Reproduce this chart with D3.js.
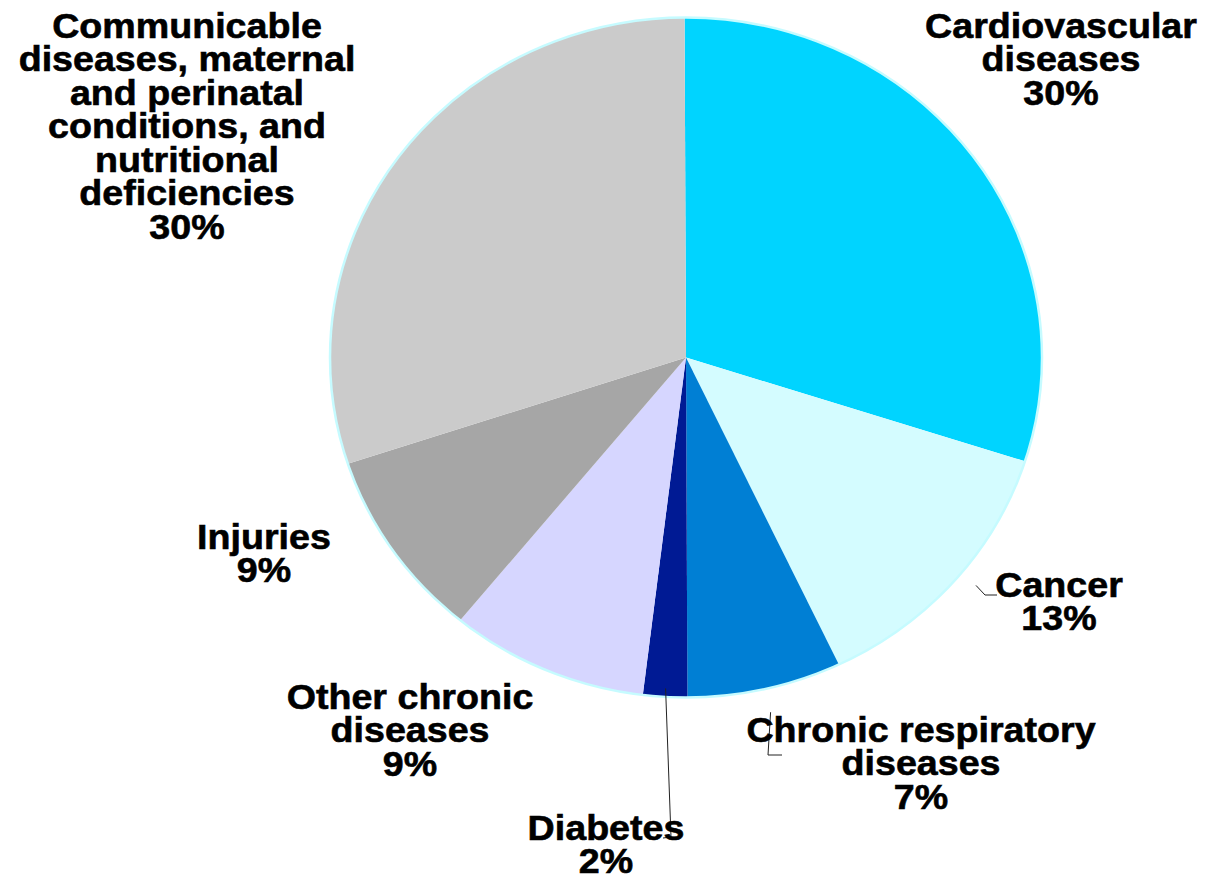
<!DOCTYPE html>
<html>
<head>
<meta charset="utf-8">
<script src="https://cdn.jsdelivr.net/npm/d3@7"></script>
<style>
  html, body { margin: 0; padding: 0; background: #fff; }
  text { font-family: "Liberation Sans", Arial, sans-serif; font-weight: bold; fill: #000; }
</style>
</head>
<body>
<div id="chart"></div>
<script>
'use strict';

// data
const categories = [
  'Cardiovascular diseases',
  'Cancer',
  'Chronic respiratory diseases',
  'Diabetes',
  'Other chronic diseases',
  'Injuries',
  'Communicable diseases, maternal and perinatal conditions, and nutritional deficiencies',
];
const values = [30, 13, 7, 2, 9, 9, 30];
const labelLines = [
  ['Cardiovascular', 'diseases'],
  ['Cancer'],
  ['Chronic respiratory', 'diseases'],
  ['Diabetes'],
  ['Other chronic', 'diseases'],
  ['Injuries'],
  ['Communicable', 'diseases, maternal', 'and perinatal', 'conditions, and', 'nutritional', 'deficiencies'],
];

const colors = ['#00d4ff', '#d4fcff', '#007fd4', '#001a94', '#d6d6ff', '#a6a6a6', '#cbcbcb'];

const width = 1207;
const height = 879;
const cx = 686;
const cy = 357.5;
const rx = 356;
const ry = 340;
const lineHeight = 33.5;

// where each label block sits (first baseline, centre x)
const labelPos = [
  { x: 1061, y: 38 },
  { x: 1059, y: 597 },
  { x: 921, y: 742 },
  { x: 606, y: 840 },
  { x: 410, y: 709 },
  { x: 264, y: 549 },
  { x: 187, y: 38 },
];

// leader lines: radius factor for the start, elbow/end offsets from the label
const leaders = {
  1: { k: 1.055, elbow: [-74, -2], end: [-62, -2] },
  2: { k: 1.07, elbow: [-153, 13], end: [-139, 13] },
  3: { k: 0.975, elbow: [65, -3], end: [57, -2] },
};

const svg = d3.select('#chart')
  .append('svg')
  .attr('width', width)
  .attr('height', height);

const color = d3.scaleOrdinal()
  .domain(categories)
  .range(colors);

const pie = d3.pie()
  .sort(null)
  .value((d) => d.value)
  .startAngle(-0.004)
  .endAngle(2 * Math.PI - 0.004);

const data = categories.map((c, i) => ({ name: c, value: values[i], lines: labelLines[i] }));
const arcs = pie(data);

// drawn as a circle of radius ry and stretched horizontally
const arc = d3.arc()
  .innerRadius(0)
  .outerRadius(ry);

const pieG = svg.append('g')
  .attr('transform', `translate(${cx}, ${cy}) scale(${rx / ry}, 1)`);

pieG.selectAll('path')
  .data(arcs)
  .join('path')
  .attr('d', arc)
  .attr('fill', (d) => color(d.data.name));

svg.append('ellipse')
  .attr('cx', cx)
  .attr('cy', cy)
  .attr('rx', rx)
  .attr('ry', ry)
  .attr('fill', 'none')
  .attr('stroke', '#c6fbff')
  .attr('stroke-width', 2.5);

// point on the stretched pie at the slice middle
const edgePoint = (d, k, shift = 0) => {
  const a = (d.startAngle + d.endAngle) / 2 + shift;
  return [cx + Math.sin(a) * rx * k, cy - Math.cos(a) * ry * k];
};

Object.keys(leaders).forEach((key) => {
  const i = +key;
  const l = leaders[key];
  const p = labelPos[i];
  const pts = [
    edgePoint(arcs[i], l.k, i === 1 ? -0.03 : 0),
    [p.x + l.elbow[0], p.y + l.elbow[1]],
    [p.x + l.end[0], p.y + l.end[1]],
  ];
  svg.append('path')
    .attr('d', d3.line()(pts))
    .attr('fill', 'none')
    .attr('stroke', '#222')
    .attr('stroke-width', 1);
});

const fmt = (v) => `${v}%`;

arcs.forEach((d, i) => {
  const p = labelPos[i];
  const g = svg.append('g')
    .attr('transform', `translate(${p.x}, ${p.y}) scale(1.075, 1)`);
  const t = g.append('text')
    .attr('text-anchor', 'middle')
    .attr('font-size', 35)
    .attr('stroke', '#000')
    .attr('stroke-width', 0.6);
  const lines = [...d.data.lines, fmt(d.data.value)];
  lines.forEach((s, j) => {
    t.append('tspan')
      .attr('x', 0)
      .attr('y', j * lineHeight)
      .text(s);
  });
});
</script>
</body>
</html>
